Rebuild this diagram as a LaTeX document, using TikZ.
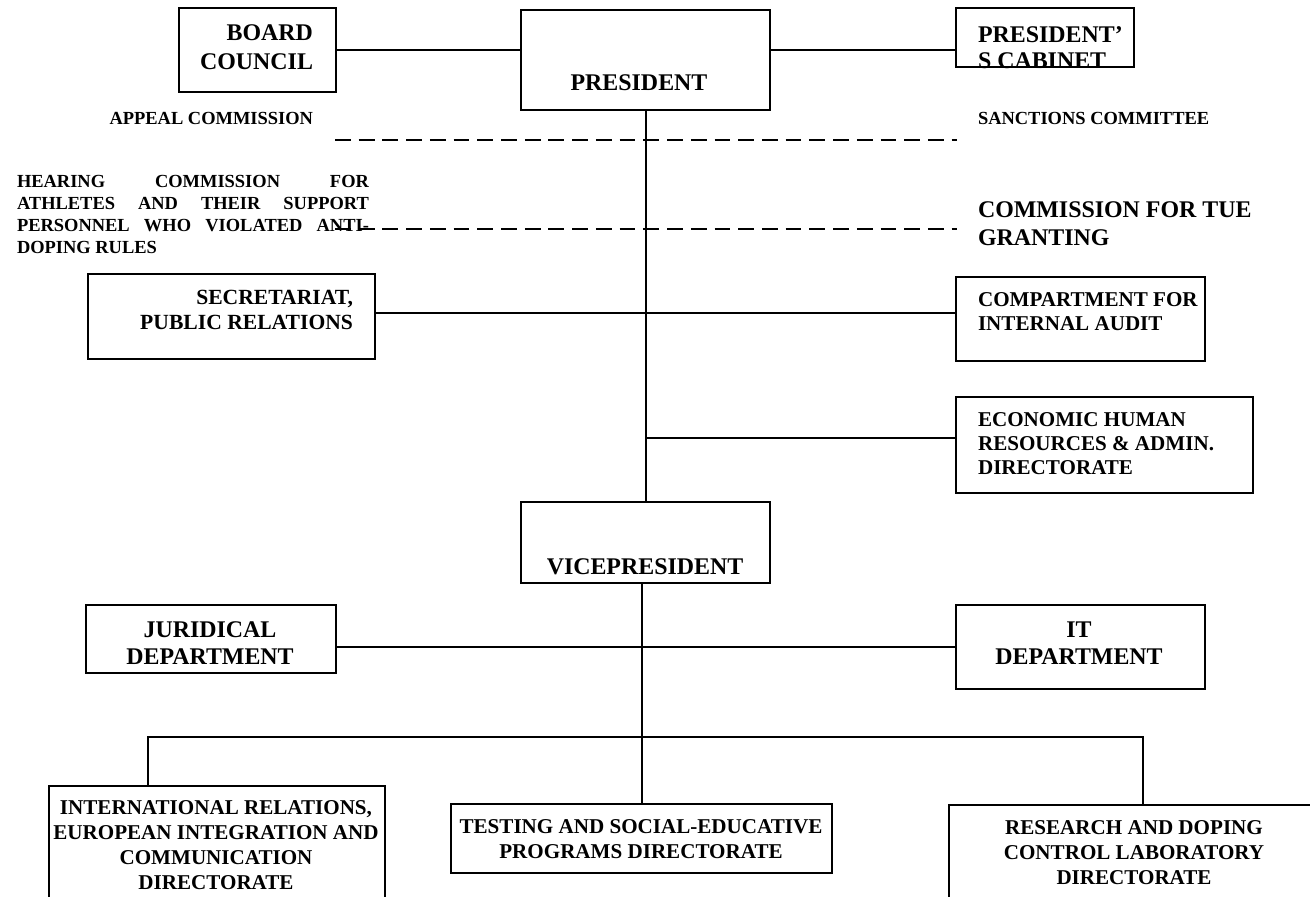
\documentclass[tikz,border=0pt]{standalone}
\usepackage{fontspec}
\setmainfont{Liberation Serif}

\begin{document}
\begin{tikzpicture}[x=0.02cm,y=-0.02cm,line width=1.15pt,
    box/.style={draw,inner sep=0pt},
    bigtxt/.style={inner sep=0pt,font=\fontsize{13.6}{15.5}\selectfont\bfseries},
    midtxt/.style={inner sep=0pt,font=\fontsize{12}{14.2}\selectfont\bfseries},
    smalltxt/.style={inner sep=0pt,font=\fontsize{10.5}{12.4}\selectfont\bfseries},
    dashlink/.style={dash pattern=on 9pt off 4.5pt}]
  \useasboundingbox (0,0) rectangle (1310,896);
  \clip (0,0) rectangle (1310,896);

  % top row
  \node[box,minimum width=3.14cm,minimum height=1.68cm] (board) at (257.5,50) {};
  \node[bigtxt,anchor=east,align=right,font=\fontsize{13.6}{16.4}\selectfont\bfseries] (boardt) at (314,47.5) {BOARD\\COUNCIL};
  \node[box,minimum width=4.98cm,minimum height=2cm] (pres) at (645.5,60) {};
  \node[bigtxt] (prest) at (639,83) {PRESIDENT};
  \node[box,minimum width=3.56cm,minimum height=1.18cm] (cab) at (1045,37.5) {};
  \begin{scope}
    \clip (cab.south west) rectangle (cab.north east);
    \node[bigtxt,anchor=west,align=left,font=\fontsize{13.6}{14.6}\selectfont\bfseries] (cabt) at (977,47.5) {PRESIDENT'\\S CABINET};
  \end{scope}
  \draw (board.east) -- (board.east -| pres.west);
  \draw (board.east -| pres.east) -- (board.east -| cab.west);

  % commissions
  \node[smalltxt,anchor=east] (appeal) at (314,118) {APPEAL COMMISSION};
  \node[smalltxt,anchor=west] (sanct) at (977,118) {SANCTIONS COMMITTEE};
  \node[smalltxt,anchor=west,text width=7.04cm,align=justify] (hearing) at (16,214.5)
    {HEARING COMMISSION FOR\linebreak ATHLETES AND THEIR SUPPORT\linebreak PERSONNEL WHO VIOLATED ANTI-\linebreak DOPING RULES};
  \node[bigtxt,anchor=west,align=left,font=\fontsize{13.6}{15.9}\selectfont\bfseries] (tue) at (977,224) {COMMISSION FOR TUE\\GRANTING};
  \coordinate (dash1w) at (335,140);
  \coordinate (dash1e) at (957,140);
  \coordinate (dash2w) at (335,229);
  \coordinate (dash2e) at (957,229);
  \draw[dashlink] (dash1w) -- (dash1e);
  \draw[dashlink] (dash2w) -- (dash2e);

  % staff units
  \node[box,minimum width=5.74cm,minimum height=1.7cm] (sec) at (231.5,316.5) {};
  \node[midtxt,anchor=east,align=right,font=\fontsize{12.3}{14.7}\selectfont\bfseries] (sect) at (354,310) {SECRETARIAT,\\PUBLIC RELATIONS};
  \node[box,minimum width=4.98cm,minimum height=1.68cm] (comp) at (1080.5,319) {};
  \node[midtxt,anchor=west,align=left,font=\fontsize{12}{13.6}\selectfont\bfseries] (compt) at (977,312) {COMPARTMENT FOR\\INTERNAL AUDIT};
  \node[box,minimum width=5.94cm,minimum height=1.92cm] (econ) at (1104.5,445) {};
  \node[midtxt,anchor=west,align=left,font=\fontsize{12}{13.6}\selectfont\bfseries] (econt) at (977,444) {ECONOMIC HUMAN\\RESOURCES \& ADMIN.\\DIRECTORATE};
  \coordinate (secout) at ([yshift=0.07cm]sec.east);
  \coordinate (econin) at ([yshift=0.14cm]econ.west);
  \draw (secout) -- (secout -| comp.west);
  \draw (econin -| pres.south) -- (econin);

  % vice president
  \node[box,minimum width=4.98cm,minimum height=1.62cm] (vice) at (645.5,542.5) {};
  \node[bigtxt] (vicet) at (645,567) {VICEPRESIDENT};
  \draw (pres.south) -- (vice.north);

  \node[box,minimum width=5cm,minimum height=1.36cm] (jur) at (211,639) {};
  \node[bigtxt,align=center,font=\fontsize{13.6}{15.3}\selectfont\bfseries] (jurt) at (210,643.5) {JURIDICAL\\DEPARTMENT};
  \node[box,minimum width=4.98cm,minimum height=1.68cm] (it) at (1080.5,647) {};
  \node[bigtxt,align=center,font=\fontsize{13.6}{15.3}\selectfont\bfseries] (itt) at (1079,643.5) {IT\\DEPARTMENT};
  \draw (jur.east |- it.west) -- (it.west);

  % directorates
  \node[box,minimum width=6.72cm,minimum height=2.48cm] (intl) at (217,848) {};
  \node[midtxt,align=center] (intlt) at (216,845.5) {INTERNATIONAL RELATIONS,\\EUROPEAN INTEGRATION AND\\COMMUNICATION\\DIRECTORATE};
  \node[box,minimum width=7.62cm,minimum height=1.38cm] (test) at (641.5,838.5) {};
  \node[midtxt,align=center] (testt) at (641,839.5) {TESTING AND SOCIAL-EDUCATIVE\\PROGRAMS DIRECTORATE};
  \node[box,minimum width=7.42cm,minimum height=2.1cm] (res) at (1134.5,857.5) {};
  \node[midtxt,align=center] (rest) at (1134,853) {RESEARCH AND DOPING\\CONTROL LABORATORY\\DIRECTORATE};
  \coordinate (busl) at (148,737);
  \coordinate (busr) at (1143,737);
  \draw (busl |- intl.north) -- (busl) -- (busr) -- (busr |- res.north);
  \draw (test.north |- vice.south) -- (test.north);
\end{tikzpicture}
\end{document}
